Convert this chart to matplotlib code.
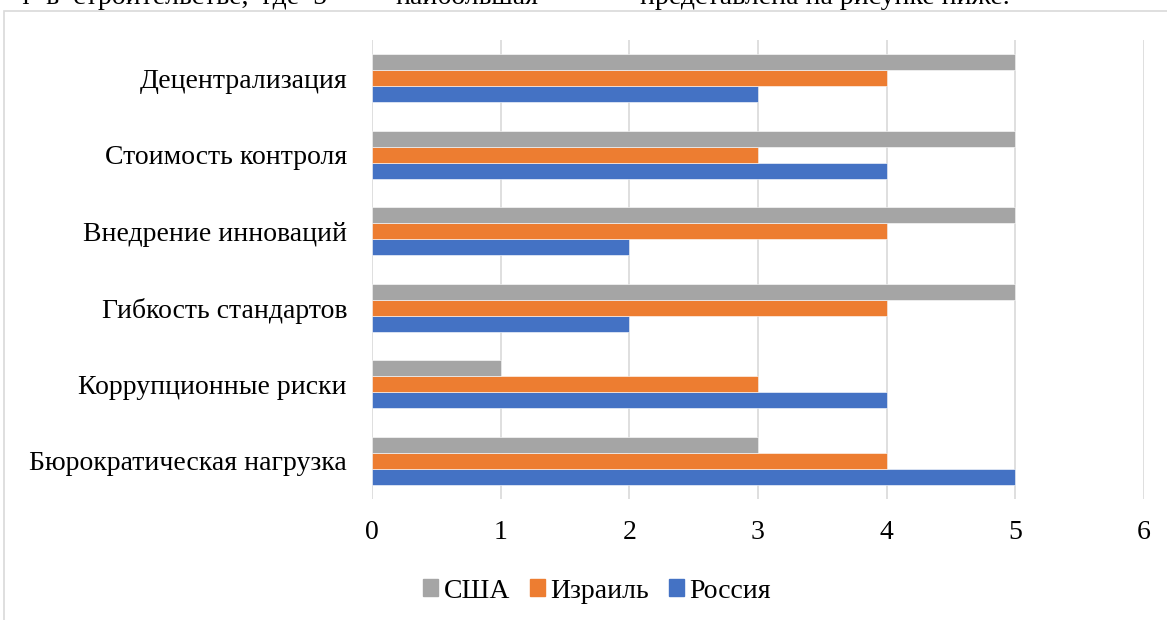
import matplotlib
matplotlib.use("Agg")
import matplotlib.pyplot as plt
from matplotlib.patches import Rectangle, Patch
import numpy as np

categories = ["Бюрократическая нагрузка", "Коррупционные риски", "Гибкость стандартов",
              "Внедрение инноваций", "Стоимость контроля", "Децентрализация"]
russia = [5, 4, 2, 2, 4, 3]
israel = [4, 3, 4, 4, 3, 4]
usa = [3, 1, 5, 5, 5, 5]
x_ticks = [0, 1, 2, 3, 4, 5, 6]

c_ru = "#4472C4"
c_il = "#ED7D31"
c_us = "#A5A5A5"

plt.rcParams['font.family'] = ['Liberation Serif', 'DejaVu Serif']

fig = plt.figure(figsize=(11.67, 6.2), dpi=100)
fig.patches.append(Rectangle((4/1167, -0.01), 1.0, 1 - 11/620 + 0.01, transform=fig.transFigure,
                             fill=False, edgecolor="#D9D9D9", linewidth=1.2))

# partially cropped text line at top (cut off as in the reference)
fig.text(20/1167, 1 + 3/620, "т  в  строительстве,  где  5", fontsize=20, va="center", ha="left", color="black")
fig.text(395/1167, 1 + 3/620, "наибольшая", fontsize=20, va="center", ha="left", color="black")
fig.text(640/1167, 1 + 3/620, "представлена на рисунке ниже.", fontsize=20, va="center", ha="left", color="black")

ax = fig.add_axes([372/1167, 1 - 499/620, (1144 - 372)/1167, (499 - 40)/620])
y = np.arange(len(categories))
h = 0.208
ax.barh(y - h, russia, height=h, color=c_ru, edgecolor="white", linewidth=0.4, zorder=3)
ax.barh(y, israel, height=h, color=c_il, edgecolor="white", linewidth=0.4, zorder=3)
ax.barh(y + h, usa, height=h, color=c_us, edgecolor="white", linewidth=0.4, zorder=3)

ax.set_xlim(0, 6)
ax.set_ylim(-0.5, len(categories) - 0.5)
ax.set_xticks(x_ticks)
ax.set_xticklabels([str(t) for t in x_ticks], fontsize=20)
ax.tick_params(axis="both", length=0)
ax.set_yticks(y)
ax.set_yticklabels(categories, fontsize=20)
ax.tick_params(axis="x", pad=15)
ax.tick_params(axis="y", pad=18)
ax.grid(axis="x", color="#D9D9D9", linewidth=1.2, zorder=0)
for s in ax.spines.values():
    s.set_visible(False)

handles = [Patch(color=c_us, label="США"), Patch(color=c_il, label="Израиль"), Patch(color=c_ru, label="Россия")]
fig.legend(handles=handles, loc="center", bbox_to_anchor=(597/1167, 1 - 591/620), ncol=3, frameon=False,
           fontsize=20, handlelength=0.55, handleheight=0.55, handletextpad=0.2, columnspacing=0.7)

fig.savefig("out.png", dpi=100)
